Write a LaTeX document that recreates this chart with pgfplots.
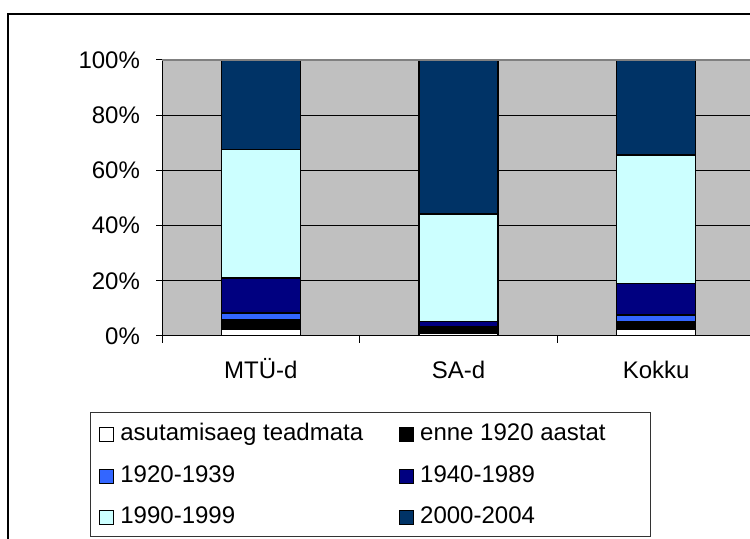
\documentclass[border=0pt]{standalone}
\usepackage{fontspec}
\setmainfont{Liberation Sans}
\usepackage{pgfplots}
\pgfplotsset{compat=1.18}

\definecolor{plotgrey}{HTML}{C0C0C0}
\definecolor{c1920}{HTML}{3366FF}
\definecolor{c1940}{HTML}{000080}
\definecolor{c1990}{HTML}{CCFFFF}
\definecolor{c2000}{HTML}{003366}

% one pixel of the reference = 0.5pt
\begin{document}
\begin{tikzpicture}
\path[use as bounding box, clip] (0,0) rectangle (375pt,269.5pt);
\fill[white] (0,0) rectangle (375pt,269.5pt);
\draw[line width=1pt] (4pt,-20pt) rectangle (400pt,262.5pt);

\begin{axis}[
    at={(81pt,101.5pt)}, anchor=south west,
    scale only axis,
    width=296.5pt, height=138pt,
    ybar stacked,
    bar width=39.5pt,
    xmin=-0.5, xmax=2.5,
    ymin=0, ymax=100,
    axis x line*=bottom, axis y line*=left,
    axis line style={black, line width=0.5pt, -},
    axis background/.style={fill=plotgrey},
    xtick={0,1,2},
    xticklabels={MTÜ-d,SA-d,Kokku},
    major x tick style={draw=none},
    minor xtick={-0.5,0.5,1.5,2.5},
    minor tick length=3.5pt,
    ytick={0,20,40,60,80,100},
    yticklabel={\pgfmathprintnumber[assume math mode=true]{\tick}\%},
    major tick length=3pt,
    tick align=outside,
    tick style={black, line width=0.5pt},
    ymajorgrids,
    major grid style={black, line width=0.5pt},
    tick label style={font=\fontsize{12}{14}\selectfont},
    xticklabel style={anchor=base, yshift=-18.5pt},
    yticklabel style={anchor=east, xshift=-4.5pt},
    legend image code/.code={\draw[#1, draw=black, line width=0.5pt] (0pt,-3.5pt) rectangle (7pt,3.5pt);},
    legend columns=2,
    legend style={
        at={(-0.10624,-0.31667)}, anchor=north west,
        draw=none, fill=none,
        inner xsep=0pt, inner ysep=0pt,
        font=\fontsize{12}{14}\selectfont,
        cells={anchor=west},
        nodes={inner sep=0pt, text height=8.6pt, text depth=2.5pt},
        row sep=9.65pt,
        /tikz/every odd column/.style={column sep=3pt},
        /tikz/every even column/.style={column sep=18pt},
    },
]
\draw[gray, line width=0.75pt] (rel axis cs:0,1) -- (rel axis cs:1,1);
\addplot[fill=white, draw=black, line width=0.75pt] coordinates {(0,2.6) (1,1.1) (2,2.6)};
\addlegendentry{asutamisaeg teadmata}
\addplot[fill=black, draw=black, line width=0.75pt] coordinates {(0,3.2) (1,2.0) (2,2.4)};
\addlegendentry{enne 1920 aastat}
\addplot[fill=c1920, draw=black, line width=0.75pt] coordinates {(0,2.5) (1,0.3) (2,2.6)};
\addlegendentry{1920-1939}
\addplot[fill=c1940, draw=black, line width=0.75pt] coordinates {(0,12.7) (1,1.8) (2,11.4)};
\addlegendentry{1940-1989}
\addplot[fill=c1990, draw=black, line width=0.75pt] coordinates {(0,46.6) (1,39.0) (2,46.6)};
\addlegendentry{1990-1999}
\addplot[fill=c2000, draw=black, line width=0.75pt] coordinates {(0,32.4) (1,55.8) (2,34.4)};
\addlegendentry{2000-2004}
\end{axis}

\draw[black!80, line width=0.5pt] (45pt,1pt) rectangle (325pt,63pt);
\end{tikzpicture}
\end{document}
